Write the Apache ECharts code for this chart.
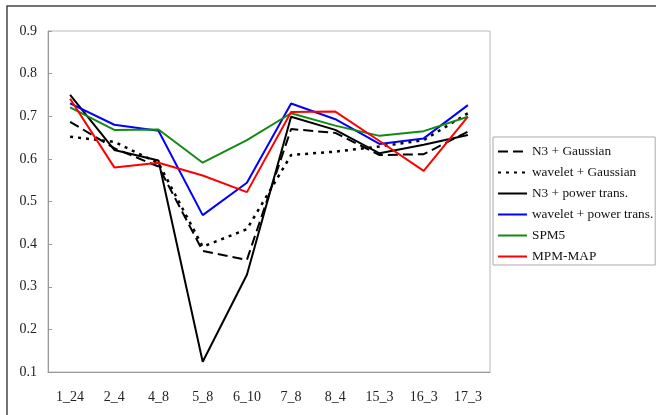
<!DOCTYPE html>
<html>
<head>
<meta charset="utf-8">
<script src="https://cdn.jsdelivr.net/npm/echarts@6/dist/echarts.min.js"></script>
<style>
html,body{margin:0;padding:0;background:#fff;}
#c{width:656px;height:415px;}
</style>
</head>
<body>
<div id="c"></div>
<script>
var categories = ['1_24','2_4','4_8','5_8','6_10','7_8','8_4','15_3','16_3','17_3'];
var yTicks = [0.1,0.2,0.3,0.4,0.5,0.6,0.7,0.8,0.9];
var n3Gaussian      = [0.687,0.625,0.582,0.384,0.363,0.670,0.661,0.609,0.611,0.664];
var waveletGaussian = [0.652,0.640,0.590,0.394,0.435,0.609,0.617,0.629,0.644,0.707];
var n3Power         = [0.750,0.621,0.596,0.124,0.328,0.699,0.668,0.613,0.633,0.656];
var waveletPower    = [0.730,0.680,0.666,0.468,0.544,0.730,0.693,0.635,0.648,0.726];
var spm5            = [0.721,0.668,0.669,0.591,0.644,0.707,0.678,0.654,0.665,0.699];
var mpmMap          = [0.741,0.580,0.591,0.561,0.522,0.710,0.711,0.642,0.572,0.699];

var font = 'Liberation Serif';
function mk(name, data, color, type, width) {
  return {
    name: name, type: 'line', data: data, symbol: 'none',
    lineStyle: {color: color, width: width, type: type},
    itemStyle: {color: color},
    animation: false
  };
}
var chart = echarts.init(document.getElementById('c'));
chart.setOption({
  backgroundColor: '#fff',
  animation: false,
  graphic: [{
    type: 'rect', silent: true,
    shape: {x: 7, y: 6, width: 720, height: 500},
    style: {fill: 'none', stroke: '#444', lineWidth: 1.5}
  }],
  grid: {left: 48, top: 31, right: 166, bottom: 43, show: true, borderColor: '#b8b8b8', borderWidth: 1},
  legend: {
    orient: 'vertical', left: 493, top: 137,
    padding: [8, 2, 2, 4],
    itemWidth: 29, itemHeight: 14, itemGap: 8,
    itemStyle: {opacity: 0},
    backgroundColor: '#fff',
    borderColor: '#aaa', borderWidth: 1,
    textStyle: {fontFamily: font, fontSize: 13.3, color: '#111'},
    data: ['N3 + Gaussian','wavelet + Gaussian','N3 + power trans.','wavelet + power trans.','SPM5','MPM-MAP']
  },
  xAxis: {
    type: 'category', data: categories, boundaryGap: true,
    axisLine: {lineStyle: {color: '#999'}},
    axisTick: {inside: true, length: 4, lineStyle: {color: '#999'}},
    axisLabel: {fontFamily: font, fontSize: 14, color: '#222', margin: 18}
  },
  yAxis: {
    type: 'value', min: 0.1, max: 0.9, interval: 0.1,
    splitLine: {show: false},
    axisLine: {show: true, lineStyle: {color: '#999'}},
    axisTick: {show: true, inside: true, length: 4, lineStyle: {color: '#999'}},
    axisLabel: {fontFamily: font, fontSize: 14, color: '#222', margin: 11,
      formatter: function (v) { return (Math.round(v * 10) / 10).toFixed(1); }}
  },
  series: [
    mk('N3 + Gaussian', n3Gaussian, '#000', [10, 5], 2),
    mk('wavelet + Gaussian', waveletGaussian, '#000', [3, 5], 2.5),
    mk('N3 + power trans.', n3Power, '#000', 'solid', 2),
    mk('wavelet + power trans.', waveletPower, '#0000ff', 'solid', 2),
    mk('SPM5', spm5, '#138a13', 'solid', 2),
    mk('MPM-MAP', mpmMap, '#ff0000', 'solid', 2)
  ]
});
</script>
</body>
</html>
